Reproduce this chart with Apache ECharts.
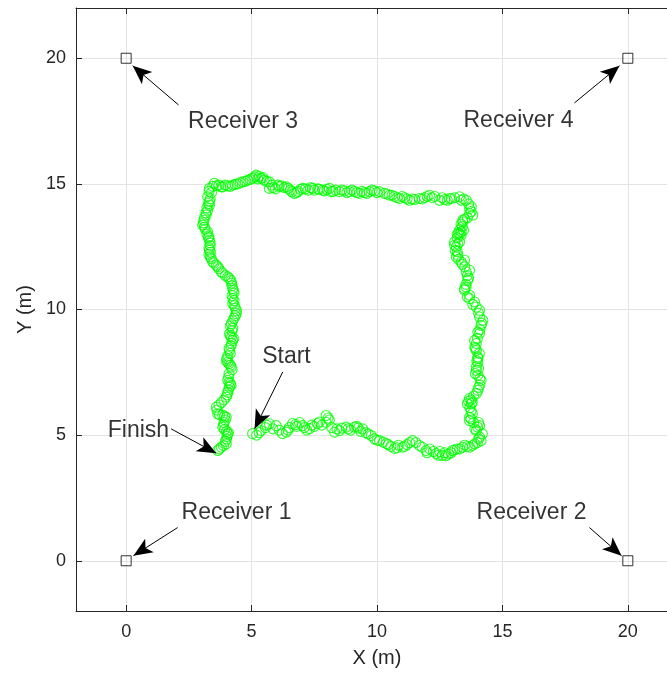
<!DOCTYPE html>
<html>
<head>
<meta charset="utf-8">
<script src="https://cdn.jsdelivr.net/npm/echarts@6/dist/echarts.min.js"></script>
<style>
  html, body { margin: 0; padding: 0; background: #fff; }
  #chart { width: 667px; height: 674px; }
</style>
</head>
<body>
<div id="chart"></div>
<script>
// tracked position estimates (m), start -> finish
const posX = [
  5.04, 5.20, 5.38, 5.55, 5.71, 5.98, 5.85, 6.23, 6.38, 6.50, 6.63, 6.91, 6.80, 7.03, 7.31, 7.20, 7.50, 7.63, 7.80, 7.97,
  7.97, 8.10, 8.31, 8.51, 8.40, 8.77, 8.95, 9.10, 9.25, 9.43, 9.55, 9.77, 9.90, 10.10, 10.37, 10.25, 10.55, 10.70, 10.85, 11.02,
  11.20, 11.42, 11.55, 11.69, 11.96, 12.10, 12.36, 12.50, 12.61, 12.70, 12.85, 13.01, 13.20, 13.41, 13.60, 13.81, 14.00, 14.15, 14.09, 14.20,
  13.96, 14.09, 14.01, 13.85, 13.69, 13.69, 13.75, 13.76, 13.65, 13.69, 13.80, 13.96, 14.02, 14.10, 14.15, 14.02, 13.96, 13.96, 14.02, 14.02,
  14.02, 13.96, 13.90, 13.96, 13.89, 14.09, 14.02, 14.15, 14.22, 14.09, 14.09, 13.96, 13.89, 13.69, 13.69, 13.49, 13.49, 13.55, 13.62, 13.56,
  13.69, 13.60, 13.36, 13.49, 13.16, 13.22, 13.20, 13.16, 13.09, 13.29, 13.09, 13.20, 13.30, 13.36, 13.29, 13.20, 13.40, 13.42, 13.42, 13.60,
  13.82, 13.69, 13.76, 13.69, 13.56, 13.36, 13.29, 12.96, 12.89, 12.70, 12.49, 12.30, 12.09, 11.90, 11.69, 11.50, 11.30, 11.10, 10.90, 10.70,
  10.50, 10.30, 10.10, 9.90, 9.70, 9.50, 9.30, 9.10, 8.90, 8.70, 8.50, 8.35, 8.17, 8.00, 7.84, 7.65, 7.44, 7.25, 7.04, 6.85,
  6.71, 6.55, 6.38, 6.20, 6.04, 5.85, 5.71, 5.71, 5.50, 5.38, 5.18, 5.25, 5.05, 4.85, 4.65, 4.45, 4.25, 4.05, 3.85, 3.70,
  3.52, 3.32, 3.40, 3.25, 3.32, 3.32, 3.25, 3.19, 3.10, 3.05, 3.15, 3.25, 3.30, 3.32, 3.35, 3.32, 3.30, 3.39, 3.45, 3.59,
  3.70, 3.79, 3.95, 4.12, 4.20, 4.25, 4.30, 4.25, 4.25, 4.35, 4.39, 4.30, 4.19, 4.25, 4.12, 4.20, 4.25, 4.18, 4.12, 4.05,
  3.99, 4.10, 4.19, 4.10, 4.05, 4.15, 4.12, 4.05, 3.99, 3.80, 3.59, 3.65, 3.85, 3.99, 3.90, 3.85, 4.00, 4.05, 4.00, 3.99,
  3.79, 3.65
];
const posY = [
  5.06, 5.00, 5.18, 5.30, 5.45, 5.38, 5.25, 5.06, 5.12, 5.30, 5.46, 5.50, 5.35, 5.38, 5.26, 5.20, 5.35, 5.46, 5.40, 5.78,
  5.51, 5.60, 5.12, 5.18, 5.25, 5.32, 5.20, 5.32, 5.28, 5.25, 5.10, 4.98, 4.85, 4.78, 4.66, 4.72, 4.55, 4.47, 4.60, 4.52,
  4.62, 4.78, 4.70, 4.59, 4.39, 4.45, 4.27, 4.35, 4.19, 4.30, 4.25, 4.39, 4.45, 4.52, 4.55, 4.59, 4.70, 4.78, 4.92, 5.05,
  5.18, 5.38, 5.32, 5.50, 5.58, 5.71, 5.95, 6.26, 6.35, 6.46, 6.30, 6.66, 6.78, 7.00, 7.18, 7.38, 7.58, 7.71, 7.90, 8.05,
  8.11, 8.37, 8.50, 8.65, 8.77, 9.05, 9.10, 9.37, 9.57, 9.70, 9.97, 10.10, 10.30, 10.43, 10.57, 10.77, 10.83, 11.00, 11.16, 11.50,
  11.56, 11.35, 11.89, 11.96, 12.09, 12.16, 12.30, 12.49, 12.56, 12.69, 12.69, 12.85, 13.00, 13.09, 13.16, 13.00, 13.30, 13.49, 13.56, 13.65,
  13.76, 13.82, 14.09, 14.02, 14.35, 14.35, 14.49, 14.42, 14.42, 14.38, 14.35, 14.50, 14.55, 14.45, 14.42, 14.38, 14.35, 14.45, 14.42, 14.50,
  14.55, 14.62, 14.69, 14.72, 14.69, 14.65, 14.62, 14.70, 14.69, 14.72, 14.69, 14.75, 14.69, 14.78, 14.75, 14.80, 14.82, 14.75, 14.82, 14.70,
  14.62, 14.75, 14.88, 14.92, 14.95, 14.85, 14.82, 15.08, 15.15, 15.22, 15.35, 15.20, 15.22, 15.15, 15.08, 15.00, 14.95, 14.92, 14.88, 14.95,
  15.02, 14.82, 14.65, 14.49, 14.30, 14.15, 13.95, 13.76, 13.55, 13.36, 13.20, 13.09, 12.90, 12.76, 12.55, 12.36, 12.20, 12.03, 11.90, 11.76,
  11.62, 11.50, 11.35, 11.23, 11.05, 10.83, 10.65, 10.43, 10.24, 10.05, 9.84, 9.65, 9.44, 9.25, 9.04, 8.90, 8.77, 8.55, 8.37, 8.15,
  7.97, 7.85, 7.71, 7.45, 7.18, 7.05, 6.91, 6.70, 6.51, 6.30, 6.11, 5.85, 5.80, 5.71, 5.50, 5.31, 5.15, 5.05, 4.85, 4.65,
  4.52, 4.39
];

// more overlapping fixes read from the dense parts of the track
const extraX = [
  5.30, 5.60, 6.10, 6.45, 6.75, 7.10, 7.40, 7.70, 8.05, 8.20, 8.60, 8.85, 9.20, 9.35, 9.65, 10.00, 10.45, 10.80, 11.10, 11.30,
  11.80, 12.00, 12.25, 12.45, 12.75, 12.95, 13.10, 13.30, 13.50, 13.70, 13.90, 14.05,
  13.90, 14.05, 13.75, 13.80, 13.70, 13.60, 13.75, 13.85, 14.05, 14.10, 13.92, 14.05, 13.98, 14.08, 13.92, 14.00, 14.10, 14.18,
  14.05, 13.82, 13.60, 13.55, 13.65, 13.50, 13.40, 13.25, 13.12, 13.22, 13.35, 13.25, 13.45, 13.35, 13.50, 13.75, 13.65, 13.45,
  13.10, 12.80, 12.60, 12.20, 12.00, 11.80, 11.40, 11.20, 11.00, 10.80, 10.60, 10.40, 10.00, 9.80, 9.60, 9.40, 9.20, 9.00,
  8.80, 8.60, 8.25, 8.10, 7.90, 7.70, 7.50, 7.35, 7.15, 6.95, 6.80, 6.60, 6.45, 6.30, 6.10, 5.95, 5.80, 5.60, 5.45, 5.30,
  5.12, 4.95, 4.75, 4.55, 4.35, 4.15, 3.95, 3.78, 3.60, 3.45,
  3.30, 3.35, 3.28, 3.22, 3.18, 3.12, 3.08, 3.12, 3.22, 3.28, 3.35, 3.30, 3.36, 3.35, 3.50, 3.65, 3.85, 4.05, 4.18, 4.22,
  4.28, 4.22, 4.30, 4.32, 4.40, 4.35, 4.25, 4.15, 4.22, 4.15, 4.28, 4.20, 4.10, 4.15, 4.02, 4.05, 4.15, 4.22, 4.08, 4.10,
  4.18, 4.08, 4.02, 3.90, 3.70, 3.62, 3.72, 3.92, 3.95, 3.88, 3.92, 4.08, 4.02, 3.95, 3.88, 3.72
];
const extraY = [
  5.10, 5.40, 5.20, 5.20, 5.42, 5.30, 5.40, 5.52, 5.68, 5.30, 5.28, 5.25, 5.35, 5.15, 5.05, 4.80, 4.62, 4.50, 4.55, 4.70,
  4.52, 4.30, 4.35, 4.20, 4.18, 4.30, 4.42, 4.45, 4.60, 4.52, 4.65, 4.85,
  5.25, 5.50, 5.65, 5.85, 6.10, 6.25, 6.40, 6.55, 6.90, 7.25, 7.45, 7.65, 7.95, 8.25, 8.45, 8.85, 9.20, 9.45,
  9.85, 10.20, 10.50, 10.90, 11.25, 11.70, 11.80, 12.00, 12.35, 12.60, 12.95, 13.05, 13.15, 13.40, 13.60, 13.90, 14.20, 14.40,
  14.45, 14.35, 14.45, 14.45, 14.50, 14.40, 14.40, 14.40, 14.50, 14.45, 14.55, 14.60, 14.65, 14.75, 14.62, 14.70, 14.65, 14.75,
  14.65, 14.75, 14.70, 14.82, 14.72, 14.78, 14.75, 14.85, 14.80, 14.78, 14.65, 14.68, 14.82, 14.85, 14.90, 14.80, 14.95, 15.10, 15.25, 15.30,
  15.28, 15.18, 15.10, 15.05, 14.98, 14.90, 14.95, 14.88, 14.92, 14.90,
  14.70, 14.40, 14.22, 14.05, 13.85, 13.65, 13.45, 13.28, 13.00, 12.85, 12.65, 12.45, 12.28, 12.10, 11.85, 11.70, 11.45, 11.30, 11.15, 10.95,
  10.75, 10.55, 10.35, 10.15, 9.95, 9.75, 9.55, 9.35, 9.15, 8.95, 8.85, 8.65, 8.45, 8.25, 8.05, 7.90, 7.78, 7.60, 7.30, 7.10,
  6.98, 6.80, 6.60, 6.40, 6.20, 6.00, 5.82, 5.75, 5.60, 5.40, 5.22, 5.10, 4.95, 4.75, 4.58, 4.45
];

// receivers
const receiverX = [0, 20, 0, 20];
const receiverY = [0, 0, 20, 20];

// annotations: text anchor, arrow tail, arrow tip
const noteText = ['Receiver 3', 'Receiver 4', 'Receiver 1', 'Receiver 2', 'Start', 'Finish'];
const noteTextX = [4.66, 15.64, 4.40, 16.16, 6.39, 0.49];
const noteTextY = [17.46, 17.50, 1.93, 1.93, 8.11, 5.18];
const tailX = [2.09, 17.87, 2.05, 18.47, 6.24, 1.79];
const tailY = [18.14, 18.22, 1.32, 1.32, 7.51, 5.25];
const tipX = [0.26, 19.67, 0.29, 19.75, 5.12, 3.59];
const tipY = [19.70, 19.70, 0.20, 0.20, 5.25, 4.28];

const tickVals = [0, 5, 10, 15, 20];
const FONT = 'Liberation Sans, Arial, Helvetica, sans-serif';
const AXIS_COLOR = '#262626';

const trackData = posX.map((x, i) => [x, posY[i]])
  .concat(extraX.map((x, i) => [x, extraY[i]]));

const chart = echarts.init(document.getElementById('chart'));

chart.setOption({
  backgroundColor: '#fff',
  animation: false,
  grid: { left: 76, top: 8, right: -11, bottom: 63, containLabel: false, outerBoundsMode: 'none' },
  xAxis: [{
    type: 'value',
    min: -2,
    max: 22,
    position: 'bottom',
    name: 'X (m)',
    nameLocation: 'middle',
    nameGap: 37,
    nameTextStyle: { fontSize: 20, color: AXIS_COLOR, fontFamily: FONT },
    axisLine: { onZero: false, lineStyle: { color: AXIS_COLOR, width: 1 } },
    axisTick: { inside: true, length: 6, customValues: tickVals, lineStyle: { color: AXIS_COLOR } },
    axisLabel: { customValues: tickVals, fontSize: 18, color: AXIS_COLOR, fontFamily: FONT, margin: 12 },
    splitLine: { show: true, lineStyle: { color: '#e3e3e3', width: 1 } },
  }, {
    type: 'value',
    min: -2,
    max: 22,
    position: 'top',
    axisLine: { onZero: false, lineStyle: { color: AXIS_COLOR, width: 1 } },
    axisTick: { inside: true, length: 6, customValues: tickVals, lineStyle: { color: AXIS_COLOR } },
    axisLabel: { show: false },
    splitLine: { show: false },
  }],
  yAxis: {
    type: 'value',
    min: -2,
    max: 22,
    name: 'Y (m)',
    nameLocation: 'middle',
    nameGap: 36,
    nameTextStyle: { fontSize: 20, color: AXIS_COLOR, fontFamily: FONT },
    axisLine: { show: true, onZero: false, lineStyle: { color: AXIS_COLOR, width: 1 } },
    axisTick: { show: true, inside: true, length: 6, customValues: tickVals, lineStyle: { color: AXIS_COLOR } },
    axisLabel: { customValues: tickVals, fontSize: 18, color: AXIS_COLOR, fontFamily: FONT, margin: 10 },
    splitLine: { show: true, lineStyle: { color: '#e3e3e3', width: 1 } },
  },
  series: [
    {
      name: 'track',
      type: 'scatter',
      symbol: 'circle',
      symbolSize: 10,
      itemStyle: { color: 'rgba(0,0,0,0)', borderColor: '#00ff00', borderWidth: 1.1 },
      data: trackData,
      z: 3,
    },
    {
      name: 'receivers',
      type: 'scatter',
      symbol: 'rect',
      symbolSize: 10,
      itemStyle: { color: 'rgba(0,0,0,0)', borderColor: '#000', borderWidth: 1 },
      data: receiverX.map((x, i) => [x, receiverY[i]]),
      z: 4,
    },
    {
      name: 'notes',
      type: 'scatter',
      symbolSize: 0,
      silent: true,
      label: {
        show: true,
        position: 'inside',
        formatter: (p) => p.name,
        fontSize: 23,
        color: '#000',
        fontFamily: FONT,
      },
      data: noteText.map((t, i) => ({ name: t, value: [noteTextX[i], noteTextY[i]] })),
      markLine: {
        silent: true,
        symbol: ['none', 'arrow'],
        symbolSize: [12, 19],
        label: { show: false },
        lineStyle: { color: '#000', width: 1, type: 'solid' },
        data: noteText.map((t, i) => [
          { coord: [tailX[i], tailY[i]] },
          { coord: [tipX[i], tipY[i]] },
        ]),
      },
      z: 5,
    },
  ],
});
</script>
</body>
</html>
